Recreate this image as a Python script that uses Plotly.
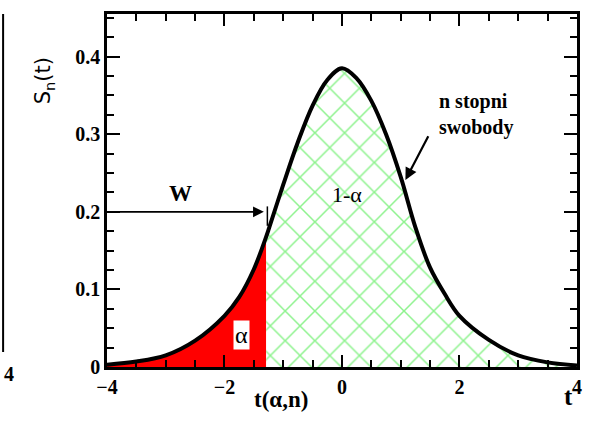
import plotly.graph_objects as go
from plotly.subplots import make_subplots

# Curve (t, S_n(t))
t_vals = [-4.0, -3.5, -3.0, -2.5, -2.0, -1.75, -1.5, -1.29, -1.25, -1.0, -0.75, -0.5, -0.25, 0.0,
          0.25, 0.5, 0.75, 1.0, 1.25, 1.5, 1.75, 2.0, 2.5, 3.0, 3.5, 4.0]
s_vals = [0.003, 0.007, 0.015, 0.034, 0.066, 0.090, 0.126, 0.168, 0.177, 0.235, 0.290, 0.337, 0.370, 0.385,
          0.372, 0.343, 0.300, 0.245, 0.180, 0.128, 0.094, 0.066, 0.035, 0.015, 0.006, 0.002]
t_crit = -1.29
w_level = 0.2

i_crit = t_vals.index(t_crit)
left_t, left_s = t_vals[:i_crit + 1], s_vals[:i_crit + 1]
right_t, right_s = t_vals[i_crit:], s_vals[i_crit:]

serif = "Liberation Serif"
fig = make_subplots(rows=1, cols=2, column_widths=[0.9999, 0.0001], horizontal_spacing=0)
fig.add_trace(go.Scatter(x=left_t, y=left_s, mode="lines+markers",
                         line=dict(width=1, shape="spline", color="#ff0000"),
                         marker=dict(size=1, color="#ff0000"),
                         fill="tozeroy", fillcolor="#ff0000"), row=1, col=1)
fig.add_trace(go.Scatter(x=right_t, y=right_s, mode="lines+markers",
                         line=dict(width=1, shape="spline", color="#1ee61e"),
                         marker=dict(size=1, color="#1ee61e"),
                         fill="tozeroy",
                         fillpattern=dict(shape="x", fgcolor="#1ee61e", bgcolor="white", size=21, solidity=0.14)),
              row=1, col=1)
fig.add_trace(go.Scatter(x=t_vals, y=s_vals, mode="lines+markers",
                         line=dict(width=4, color="black", shape="spline"),
                         marker=dict(size=2, color="black")), row=1, col=1)

common = dict(showgrid=False, zeroline=False, showline=True, linecolor="black", linewidth=2.5,
              mirror="ticks", ticks="inside", tickcolor="black", tickwidth=2,
              tickfont=dict(family=serif, size=20, color="black", weight="bold"))
fig.update_xaxes(range=[-4, 4], tickmode="linear", tick0=-4, dtick=2, ticklen=12,
                 minor=dict(ticks="inside", dtick=0.5, ticklen=7, tickwidth=1.5, tickcolor="black"),
                 row=1, col=1, **common)
fig.update_yaxes(range=[0, 0.455], tickmode="linear", tick0=0, dtick=0.1, ticklen=13,
                 minor=dict(ticks="inside", dtick=0.025, ticklen=7, tickwidth=1.5, tickcolor="black"),
                 row=1, col=1, **common)
fig.update_xaxes(visible=False, row=1, col=2)
fig.update_yaxes(visible=False, row=1, col=2)

ann = []
ann.append(dict(x=t_crit - 0.04, y=w_level, ax=-4, ay=w_level, xref="x", yref="y", axref="x", ayref="y",
                showarrow=True, arrowhead=2, arrowwidth=1.8, arrowsize=1.2, arrowcolor="black", text=" "))
ann.append(dict(x=-2.75, y=0.223, xref="x", yref="y", text="<b>W</b>", showarrow=False,
                font=dict(family=serif, size=23, color="black")))
ann.append(dict(x=0.09, y=0.222, xref="x", yref="y", text="1-α", showarrow=False,
                font=dict(family=serif, size=22, color="black")))
ann.append(dict(x=-1.71, y=0.041, xref="x", yref="y", text="α", showarrow=False, bgcolor="white",
                borderpad=1, font=dict(family=serif, size=24, color="black")))
ann.append(dict(x=1.08, y=0.241, ax=1.52, ay=0.305, xref="x", yref="y", axref="x", ayref="y",
                showarrow=True, arrowhead=2, arrowwidth=2.2, arrowsize=1.1, arrowcolor="black", text=" "))
ann.append(dict(x=1.62, y=0.325, xref="x", yref="y", xanchor="left", align="left",
                text="<b>n stopni<br>swobody</b>", showarrow=False,
                font=dict(family=serif, size=20, color="black")))
ann.append(dict(x=(28 - 107) / 475, y=(367 - 55) / 353, xref="paper", yref="paper", textangle=-90,
                text="S<sub>n</sub>(t)", showarrow=False,
                font=dict(family="DejaVu Sans", size=21, color="black")))
ann.append(dict(x=(283 - 107) / 475, y=-(414 - 367) / 353, xref="paper", yref="paper",
                text="<b>t(α,n)</b>", showarrow=False, font=dict(family=serif, size=23, color="black")))
ann.append(dict(x=(580 - 107) / 475, y=-(412 - 367) / 353, xref="paper", yref="paper",
                text="<b>t</b>", showarrow=False, font=dict(family=serif, size=25, color="black")))
ann.append(dict(x=(1 - 107) / 475, y=-(387 - 367) / 353, xref="paper", yref="paper",
                text="<b>4</b>", showarrow=False, font=dict(family=serif, size=20, color="black")))

shapes = [
    dict(type="line", xref="x", yref="y", x0=t_crit + 0.02, x1=t_crit + 0.02, y0=0.182, y1=0.207,
         line=dict(color="black", width=1.5)),
    dict(type="line", xref="paper", yref="paper", x0=(2 - 107) / 475, x1=(2 - 107) / 475,
         y0=(367 - 352) / 353, y1=1.0, line=dict(color="black", width=2)),
]

fig.update_layout(width=589, height=425, margin=dict(l=107, r=7, t=14, b=58),
                  plot_bgcolor="white", paper_bgcolor="white", showlegend=False,
                  annotations=ann, shapes=shapes)
fig.write_html("out.html")
